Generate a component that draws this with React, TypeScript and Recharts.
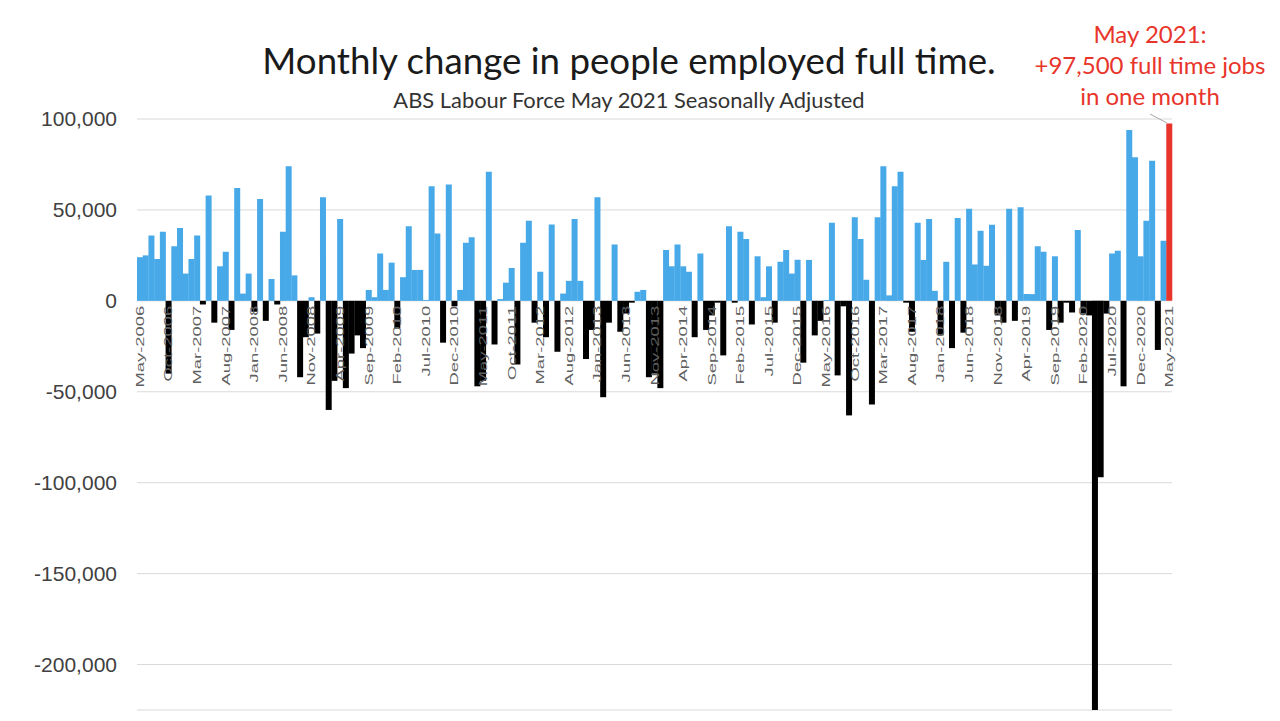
import React from 'react';
import { BarChart, Bar, Cell, XAxis, YAxis, CartesianGrid } from 'recharts';

// Monthly change in full-time employment (persons), ABS Labour Force, seasonally adjusted.
const MONTH_NAMES = ['Jan', 'Feb', 'Mar', 'Apr', 'May', 'Jun', 'Jul', 'Aug', 'Sep', 'Oct', 'Nov', 'Dec'];

const FT_2006 = [24000, 25000, 36000, 23000, 38000, -40000, 30000, 40000]; // May–Dec
const FT_2007 = [15000, 23000, 36000, -2000, 58000, -12000, 19000, 27000, -16000, 62000, 4000, 15000];
const FT_2008 = [-6000, 56000, -11000, 12000, -2000, 38000, 74000, 14000, -42000, -20000, 2000, -18000];
const FT_2009 = [57000, -60000, -44000, 45000, -48000, -29000, -19000, -26000, 6000, 2000, 26000, 6000];
const FT_2010 = [21000, -15000, 13000, 41000, 17000, 17000, 500, 63000, 37000, -23000, 64000, -3000];
const FT_2011 = [6000, 32000, 35000, -47000, -44000, 71000, -24000, 1000, 10000, 18000, -35000, 32000];
const FT_2012 = [44000, -12000, 16000, -20000, 42000, -28000, 4000, 11000, 45000, 11000, -32000, -16000];
const FT_2013 = [57000, -53000, -12000, 31000, -17000, -7000, -1000, 5000, 6000, -42000, -40000, -48000];
const FT_2014 = [28000, 19000, 31000, 19000, 16000, -20000, 26000, -16000, -8000, -1000, -30000, 41000];
const FT_2015 = [-1000, 38000, 34000, -13000, 24500, 2000, 19000, -12000, 21500, 28000, 15000, 22600];
const FT_2016 = [-34000, 22500, -19000, -11000, 500, 43000, -41000, -3000, -63000, 46000, 34000, 11600];
const FT_2017 = [-57000, 46000, 74000, 3000, 63000, 71000, -1000, -17000, 43000, 22500, 45000, 5500];
const FT_2018 = [-19000, 21500, -26000, 45500, -17500, 50600, 20000, 38600, 19300, 41800, -8000, -12000];
const FT_2019 = [50600, -11000, 51500, 3700, 3700, 30000, 27000, -16000, 24500, -12000, -1000, -6400];
const FT_2020 = [39000, -7000, -8000, -225000, -97000, -7000, 26000, 27600, -47000, 94000, 79000, 24500];
const FT_2021 = [44000, 77000, -27000, 33000, 97500]; // Jan–May

// [year, index of first month, values]
const YEARS: [number, number, number[]][] = [
  [2006, 4, FT_2006],
  [2007, 0, FT_2007],
  [2008, 0, FT_2008],
  [2009, 0, FT_2009],
  [2010, 0, FT_2010],
  [2011, 0, FT_2011],
  [2012, 0, FT_2012],
  [2013, 0, FT_2013],
  [2014, 0, FT_2014],
  [2015, 0, FT_2015],
  [2016, 0, FT_2016],
  [2017, 0, FT_2017],
  [2018, 0, FT_2018],
  [2019, 0, FT_2019],
  [2020, 0, FT_2020],
  [2021, 0, FT_2021],
];

const Y_TICKS = [100000, 50000, 0, -50000, -100000, -150000, -200000];
const Y_MIN = -225000;
const Y_MAX = 100000;

const chartData = YEARS.flatMap(([year, first, values]) =>
  values.map((change, i) => ({ month: `${MONTH_NAMES[first + i]}-${year}`, change }))
);

const CHART_W = 1280;
const CHART_H = 721;
const MARGIN = { top: 119, right: 108, bottom: 1, left: 0 };
const Y_AXIS_W = 137;
const X_AXIS_H = 10;
const PLOT_H = CHART_H - MARGIN.top - MARGIN.bottom - X_AXIS_H;
// month labels sit just under the zero line, like Excel's "next to axis"
const ZERO_Y = MARGIN.top + (Y_MAX / (Y_MAX - Y_MIN)) * PLOT_H;

const BLUE = '#48a9e9';
const RED = '#e8352b';

const MonthTick = (props: any) => {
  const { x, payload } = props;
  return (
    <text
      x={0}
      y={0}
      transform={`translate(${x},${ZERO_Y + 5}) rotate(-90) scale(1.6,1)`}
      textAnchor="end"
      dy="0.35em"
      fill="#5f5f5f"
      fontSize={11.5}
      fontFamily="Liberation Sans, Arial, sans-serif"
    >
      {payload.value}
    </text>
  );
};

const barColor = (value: number, index: number) => {
  if (index === chartData.length - 1) return RED;
  return value < 0 ? '#000000' : BLUE;
};

const App: React.FC = () => {
  return (
    <div
      style={{
        position: 'absolute',
        left: 0,
        top: 0,
        width: CHART_W,
        height: CHART_H,
        background: '#fff',
        fontFamily: 'Lato, sans-serif',
      }}
    >
      <BarChart width={CHART_W} height={CHART_H} data={chartData} margin={MARGIN} barCategoryGap={0}>
        <CartesianGrid vertical={false} stroke="#d9d9d9" />
        <XAxis
          dataKey="month"
          interval={4}
          height={X_AXIS_H}
          axisLine={false}
          tickLine={false}
          tick={<MonthTick />}
        />
        <YAxis
          width={Y_AXIS_W}
          domain={[Y_MIN, Y_MAX]}
          ticks={Y_TICKS}
          allowDataOverflow
          axisLine={false}
          tickLine={false}
          tickSize={6}
          tickMargin={14}
          tick={{ fontSize: 21, fill: '#404040', fontFamily: 'Liberation Sans, Arial, sans-serif' }}
          tickFormatter={(v: number) => v.toLocaleString('en-US')}
        />
        <Bar dataKey="change" isAnimationActive={false}>
          {chartData.map((d, i) => (
            <Cell key={d.month} fill={barColor(d.change, i)} />
          ))}
        </Bar>
      </BarChart>

      <div
        style={{
          position: 'absolute',
          left: 0,
          width: 1258,
          top: 37,
          textAlign: 'center',
          fontSize: 36.7,
          color: '#1a1a1a',
          lineHeight: '46px',
        }}
      >
        Monthly change in people employed full time.
      </div>
      <div
        style={{
          position: 'absolute',
          left: 0,
          width: 1258,
          top: 86,
          textAlign: 'center',
          fontSize: 21.9,
          color: '#333',
          lineHeight: '27px',
        }}
      >
        ABS Labour Force May 2021 Seasonally Adjusted
      </div>
      <div
        style={{
          position: 'absolute',
          left: 1025,
          width: 250,
          top: 18,
          textAlign: 'center',
          fontSize: 24,
          color: RED,
          lineHeight: '31px',
        }}
      >
        May 2021:
        <br />
        +97,500 full time jobs
        <br />
        in one month
      </div>
      <svg style={{ position: 'absolute', left: 0, top: 0 }} width={CHART_W} height={CHART_H} pointerEvents="none">
        <line x1={1150} y1={114} x2={1167} y2={123} stroke="#a6a6a6" strokeWidth={1} />
      </svg>
    </div>
  );
};

export default App;
